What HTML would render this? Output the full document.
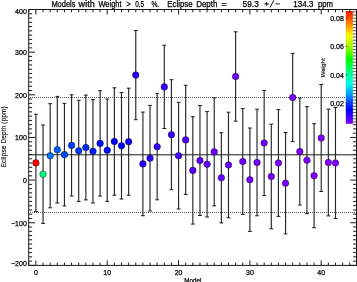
<!DOCTYPE html>
<html><head><meta charset="utf-8"><style>
html,body{margin:0;padding:0;background:#fff;overflow:hidden;width:357px;height:282px}
svg{display:block;will-change:transform}
text{font-family:"Liberation Sans",sans-serif;stroke:#000;stroke-width:0.25px}
</style></head><body><svg width="357" height="282" viewBox="0 0 357 282"><defs><linearGradient id="cb" x1="0" y1="0" x2="0" y2="1"><stop offset="0.000" stop-color="#ff0f00"/><stop offset="0.106" stop-color="#ff7d00"/><stop offset="0.213" stop-color="#fff500"/><stop offset="0.319" stop-color="#96ff00"/><stop offset="0.426" stop-color="#00ff00"/><stop offset="0.532" stop-color="#00ff78"/><stop offset="0.638" stop-color="#00ffe6"/><stop offset="0.745" stop-color="#0096ff"/><stop offset="0.816" stop-color="#003cff"/><stop offset="0.878" stop-color="#0000ff"/><stop offset="0.940" stop-color="#4600ff"/><stop offset="1.000" stop-color="#8200ff"/></linearGradient></defs><line x1="28.7" y1="154.81" x2="356.4" y2="154.81" stroke="#1a1a1a" stroke-width="1"/><line x1="30" y1="97.50" x2="356" y2="97.50" stroke="#555" stroke-width="1" stroke-dasharray="1,1"/><line x1="30" y1="212.50" x2="356" y2="212.50" stroke="#555" stroke-width="1" stroke-dasharray="1,1"/><line x1="35.90" y1="114.20" x2="35.90" y2="211.60" stroke="#262626" stroke-width="1.15"/><line x1="34.00" y1="114.20" x2="37.80" y2="114.20" stroke="#1a1a1a" stroke-width="1"/><line x1="34.00" y1="211.60" x2="37.80" y2="211.60" stroke="#1a1a1a" stroke-width="1"/><line x1="43.03" y1="125.00" x2="43.03" y2="223.40" stroke="#262626" stroke-width="1.15"/><line x1="41.13" y1="125.00" x2="44.93" y2="125.00" stroke="#1a1a1a" stroke-width="1"/><line x1="41.13" y1="223.40" x2="44.93" y2="223.40" stroke="#1a1a1a" stroke-width="1"/><line x1="50.17" y1="103.70" x2="50.17" y2="207.80" stroke="#262626" stroke-width="1.15"/><line x1="48.27" y1="103.70" x2="52.07" y2="103.70" stroke="#1a1a1a" stroke-width="1"/><line x1="48.27" y1="207.80" x2="52.07" y2="207.80" stroke="#1a1a1a" stroke-width="1"/><line x1="57.30" y1="96.40" x2="57.30" y2="203.00" stroke="#262626" stroke-width="1.15"/><line x1="55.40" y1="96.40" x2="59.20" y2="96.40" stroke="#1a1a1a" stroke-width="1"/><line x1="55.40" y1="203.00" x2="59.20" y2="203.00" stroke="#1a1a1a" stroke-width="1"/><line x1="64.43" y1="103.40" x2="64.43" y2="205.90" stroke="#262626" stroke-width="1.15"/><line x1="62.53" y1="103.40" x2="66.33" y2="103.40" stroke="#1a1a1a" stroke-width="1"/><line x1="62.53" y1="205.90" x2="66.33" y2="205.90" stroke="#1a1a1a" stroke-width="1"/><line x1="71.56" y1="94.80" x2="71.56" y2="196.00" stroke="#262626" stroke-width="1.15"/><line x1="69.66" y1="94.80" x2="73.47" y2="94.80" stroke="#1a1a1a" stroke-width="1"/><line x1="69.66" y1="196.00" x2="73.47" y2="196.00" stroke="#1a1a1a" stroke-width="1"/><line x1="78.70" y1="100.20" x2="78.70" y2="201.40" stroke="#262626" stroke-width="1.15"/><line x1="76.80" y1="100.20" x2="80.60" y2="100.20" stroke="#1a1a1a" stroke-width="1"/><line x1="76.80" y1="201.40" x2="80.60" y2="201.40" stroke="#1a1a1a" stroke-width="1"/><line x1="85.83" y1="95.10" x2="85.83" y2="199.90" stroke="#262626" stroke-width="1.15"/><line x1="83.93" y1="95.10" x2="87.73" y2="95.10" stroke="#1a1a1a" stroke-width="1"/><line x1="83.93" y1="199.90" x2="87.73" y2="199.90" stroke="#1a1a1a" stroke-width="1"/><line x1="92.96" y1="99.60" x2="92.96" y2="203.00" stroke="#262626" stroke-width="1.15"/><line x1="91.06" y1="99.60" x2="94.86" y2="99.60" stroke="#1a1a1a" stroke-width="1"/><line x1="91.06" y1="203.00" x2="94.86" y2="203.00" stroke="#1a1a1a" stroke-width="1"/><line x1="100.10" y1="90.70" x2="100.10" y2="196.10" stroke="#262626" stroke-width="1.15"/><line x1="98.20" y1="90.70" x2="102.00" y2="90.70" stroke="#1a1a1a" stroke-width="1"/><line x1="98.20" y1="196.10" x2="102.00" y2="196.10" stroke="#1a1a1a" stroke-width="1"/><line x1="107.23" y1="99.00" x2="107.23" y2="201.40" stroke="#262626" stroke-width="1.15"/><line x1="105.33" y1="99.00" x2="109.13" y2="99.00" stroke="#1a1a1a" stroke-width="1"/><line x1="105.33" y1="201.40" x2="109.13" y2="201.40" stroke="#1a1a1a" stroke-width="1"/><line x1="114.36" y1="87.80" x2="114.36" y2="195.20" stroke="#262626" stroke-width="1.15"/><line x1="112.46" y1="87.80" x2="116.26" y2="87.80" stroke="#1a1a1a" stroke-width="1"/><line x1="112.46" y1="195.20" x2="116.26" y2="195.20" stroke="#1a1a1a" stroke-width="1"/><line x1="121.50" y1="92.60" x2="121.50" y2="199.00" stroke="#262626" stroke-width="1.15"/><line x1="119.60" y1="92.60" x2="123.40" y2="92.60" stroke="#1a1a1a" stroke-width="1"/><line x1="119.60" y1="199.00" x2="123.40" y2="199.00" stroke="#1a1a1a" stroke-width="1"/><line x1="128.63" y1="88.20" x2="128.63" y2="195.20" stroke="#262626" stroke-width="1.15"/><line x1="126.73" y1="88.20" x2="130.53" y2="88.20" stroke="#1a1a1a" stroke-width="1"/><line x1="126.73" y1="195.20" x2="130.53" y2="195.20" stroke="#1a1a1a" stroke-width="1"/><line x1="135.76" y1="30.50" x2="135.76" y2="119.70" stroke="#262626" stroke-width="1.15"/><line x1="133.86" y1="30.50" x2="137.66" y2="30.50" stroke="#1a1a1a" stroke-width="1"/><line x1="133.86" y1="119.70" x2="137.66" y2="119.70" stroke="#1a1a1a" stroke-width="1"/><line x1="142.90" y1="112.10" x2="142.90" y2="215.70" stroke="#262626" stroke-width="1.15"/><line x1="141.00" y1="112.10" x2="144.80" y2="112.10" stroke="#1a1a1a" stroke-width="1"/><line x1="141.00" y1="215.70" x2="144.80" y2="215.70" stroke="#1a1a1a" stroke-width="1"/><line x1="150.03" y1="105.40" x2="150.03" y2="211.00" stroke="#262626" stroke-width="1.15"/><line x1="148.13" y1="105.40" x2="151.93" y2="105.40" stroke="#1a1a1a" stroke-width="1"/><line x1="148.13" y1="211.00" x2="151.93" y2="211.00" stroke="#1a1a1a" stroke-width="1"/><line x1="157.16" y1="93.60" x2="157.16" y2="199.80" stroke="#262626" stroke-width="1.15"/><line x1="155.26" y1="93.60" x2="159.06" y2="93.60" stroke="#1a1a1a" stroke-width="1"/><line x1="155.26" y1="199.80" x2="159.06" y2="199.80" stroke="#1a1a1a" stroke-width="1"/><line x1="164.29" y1="45.30" x2="164.29" y2="128.50" stroke="#262626" stroke-width="1.15"/><line x1="162.39" y1="45.30" x2="166.19" y2="45.30" stroke="#1a1a1a" stroke-width="1"/><line x1="162.39" y1="128.50" x2="166.19" y2="128.50" stroke="#1a1a1a" stroke-width="1"/><line x1="171.43" y1="79.70" x2="171.43" y2="189.70" stroke="#262626" stroke-width="1.15"/><line x1="169.53" y1="79.70" x2="173.33" y2="79.70" stroke="#1a1a1a" stroke-width="1"/><line x1="169.53" y1="189.70" x2="173.33" y2="189.70" stroke="#1a1a1a" stroke-width="1"/><line x1="178.56" y1="102.40" x2="178.56" y2="209.00" stroke="#262626" stroke-width="1.15"/><line x1="176.66" y1="102.40" x2="180.46" y2="102.40" stroke="#1a1a1a" stroke-width="1"/><line x1="176.66" y1="209.00" x2="180.46" y2="209.00" stroke="#1a1a1a" stroke-width="1"/><line x1="185.69" y1="85.30" x2="185.69" y2="194.50" stroke="#262626" stroke-width="1.15"/><line x1="183.79" y1="85.30" x2="187.59" y2="85.30" stroke="#1a1a1a" stroke-width="1"/><line x1="183.79" y1="194.50" x2="187.59" y2="194.50" stroke="#1a1a1a" stroke-width="1"/><line x1="192.83" y1="116.70" x2="192.83" y2="224.10" stroke="#262626" stroke-width="1.15"/><line x1="190.93" y1="116.70" x2="194.73" y2="116.70" stroke="#1a1a1a" stroke-width="1"/><line x1="190.93" y1="224.10" x2="194.73" y2="224.10" stroke="#1a1a1a" stroke-width="1"/><line x1="199.96" y1="105.50" x2="199.96" y2="215.50" stroke="#262626" stroke-width="1.15"/><line x1="198.06" y1="105.50" x2="201.86" y2="105.50" stroke="#1a1a1a" stroke-width="1"/><line x1="198.06" y1="215.50" x2="201.86" y2="215.50" stroke="#1a1a1a" stroke-width="1"/><line x1="207.09" y1="111.60" x2="207.09" y2="217.00" stroke="#262626" stroke-width="1.15"/><line x1="205.19" y1="111.60" x2="208.99" y2="111.60" stroke="#1a1a1a" stroke-width="1"/><line x1="205.19" y1="217.00" x2="208.99" y2="217.00" stroke="#1a1a1a" stroke-width="1"/><line x1="214.22" y1="97.90" x2="214.22" y2="205.90" stroke="#262626" stroke-width="1.15"/><line x1="212.32" y1="97.90" x2="216.12" y2="97.90" stroke="#1a1a1a" stroke-width="1"/><line x1="212.32" y1="205.90" x2="216.12" y2="205.90" stroke="#1a1a1a" stroke-width="1"/><line x1="221.36" y1="132.70" x2="221.36" y2="222.90" stroke="#262626" stroke-width="1.15"/><line x1="219.46" y1="132.70" x2="223.26" y2="132.70" stroke="#1a1a1a" stroke-width="1"/><line x1="219.46" y1="222.90" x2="223.26" y2="222.90" stroke="#1a1a1a" stroke-width="1"/><line x1="228.49" y1="112.20" x2="228.49" y2="217.80" stroke="#262626" stroke-width="1.15"/><line x1="226.59" y1="112.20" x2="230.39" y2="112.20" stroke="#1a1a1a" stroke-width="1"/><line x1="226.59" y1="217.80" x2="230.39" y2="217.80" stroke="#1a1a1a" stroke-width="1"/><line x1="235.62" y1="31.80" x2="235.62" y2="121.20" stroke="#262626" stroke-width="1.15"/><line x1="233.72" y1="31.80" x2="237.52" y2="31.80" stroke="#1a1a1a" stroke-width="1"/><line x1="233.72" y1="121.20" x2="237.52" y2="121.20" stroke="#1a1a1a" stroke-width="1"/><line x1="242.76" y1="108.60" x2="242.76" y2="214.40" stroke="#262626" stroke-width="1.15"/><line x1="240.86" y1="108.60" x2="244.66" y2="108.60" stroke="#1a1a1a" stroke-width="1"/><line x1="240.86" y1="214.40" x2="244.66" y2="214.40" stroke="#1a1a1a" stroke-width="1"/><line x1="249.89" y1="128.00" x2="249.89" y2="231.40" stroke="#262626" stroke-width="1.15"/><line x1="247.99" y1="128.00" x2="251.79" y2="128.00" stroke="#1a1a1a" stroke-width="1"/><line x1="247.99" y1="231.40" x2="251.79" y2="231.40" stroke="#1a1a1a" stroke-width="1"/><line x1="257.02" y1="109.20" x2="257.02" y2="215.80" stroke="#262626" stroke-width="1.15"/><line x1="255.12" y1="109.20" x2="258.92" y2="109.20" stroke="#1a1a1a" stroke-width="1"/><line x1="255.12" y1="215.80" x2="258.92" y2="215.80" stroke="#1a1a1a" stroke-width="1"/><line x1="264.16" y1="90.40" x2="264.16" y2="195.60" stroke="#262626" stroke-width="1.15"/><line x1="262.26" y1="90.40" x2="266.06" y2="90.40" stroke="#1a1a1a" stroke-width="1"/><line x1="262.26" y1="195.60" x2="266.06" y2="195.60" stroke="#1a1a1a" stroke-width="1"/><line x1="271.29" y1="124.20" x2="271.29" y2="228.80" stroke="#262626" stroke-width="1.15"/><line x1="269.39" y1="124.20" x2="273.19" y2="124.20" stroke="#1a1a1a" stroke-width="1"/><line x1="269.39" y1="228.80" x2="273.19" y2="228.80" stroke="#1a1a1a" stroke-width="1"/><line x1="278.42" y1="109.60" x2="278.42" y2="216.40" stroke="#262626" stroke-width="1.15"/><line x1="276.52" y1="109.60" x2="280.32" y2="109.60" stroke="#1a1a1a" stroke-width="1"/><line x1="276.52" y1="216.40" x2="280.32" y2="216.40" stroke="#1a1a1a" stroke-width="1"/><line x1="285.56" y1="132.50" x2="285.56" y2="233.90" stroke="#262626" stroke-width="1.15"/><line x1="283.66" y1="132.50" x2="287.45" y2="132.50" stroke="#1a1a1a" stroke-width="1"/><line x1="283.66" y1="233.90" x2="287.45" y2="233.90" stroke="#1a1a1a" stroke-width="1"/><line x1="292.69" y1="53.40" x2="292.69" y2="141.60" stroke="#262626" stroke-width="1.15"/><line x1="290.79" y1="53.40" x2="294.59" y2="53.40" stroke="#1a1a1a" stroke-width="1"/><line x1="290.79" y1="141.60" x2="294.59" y2="141.60" stroke="#1a1a1a" stroke-width="1"/><line x1="299.82" y1="98.00" x2="299.82" y2="205.00" stroke="#262626" stroke-width="1.15"/><line x1="297.92" y1="98.00" x2="301.72" y2="98.00" stroke="#1a1a1a" stroke-width="1"/><line x1="297.92" y1="205.00" x2="301.72" y2="205.00" stroke="#1a1a1a" stroke-width="1"/><line x1="306.95" y1="106.70" x2="306.95" y2="213.70" stroke="#262626" stroke-width="1.15"/><line x1="305.05" y1="106.70" x2="308.85" y2="106.70" stroke="#1a1a1a" stroke-width="1"/><line x1="305.05" y1="213.70" x2="308.85" y2="213.70" stroke="#1a1a1a" stroke-width="1"/><line x1="314.09" y1="123.70" x2="314.09" y2="227.70" stroke="#262626" stroke-width="1.15"/><line x1="312.19" y1="123.70" x2="315.99" y2="123.70" stroke="#1a1a1a" stroke-width="1"/><line x1="312.19" y1="227.70" x2="315.99" y2="227.70" stroke="#1a1a1a" stroke-width="1"/><line x1="321.22" y1="84.50" x2="321.22" y2="191.50" stroke="#262626" stroke-width="1.15"/><line x1="319.32" y1="84.50" x2="323.12" y2="84.50" stroke="#1a1a1a" stroke-width="1"/><line x1="319.32" y1="191.50" x2="323.12" y2="191.50" stroke="#1a1a1a" stroke-width="1"/><line x1="328.35" y1="109.10" x2="328.35" y2="215.90" stroke="#262626" stroke-width="1.15"/><line x1="326.45" y1="109.10" x2="330.25" y2="109.10" stroke="#1a1a1a" stroke-width="1"/><line x1="326.45" y1="215.90" x2="330.25" y2="215.90" stroke="#1a1a1a" stroke-width="1"/><line x1="335.49" y1="107.50" x2="335.49" y2="218.50" stroke="#262626" stroke-width="1.15"/><line x1="333.59" y1="107.50" x2="337.39" y2="107.50" stroke="#1a1a1a" stroke-width="1"/><line x1="333.59" y1="218.50" x2="337.39" y2="218.50" stroke="#1a1a1a" stroke-width="1"/><circle cx="35.90" cy="162.90" r="3.3" fill="#ff0000" stroke="#000" stroke-opacity="0.6" stroke-width="0.7"/><circle cx="43.03" cy="174.20" r="3.3" fill="#00ff78" stroke="#000" stroke-opacity="0.6" stroke-width="0.7"/><circle cx="50.17" cy="155.75" r="3.3" fill="#0073ff" stroke="#000" stroke-opacity="0.6" stroke-width="0.7"/><circle cx="57.30" cy="149.70" r="3.3" fill="#005aff" stroke="#000" stroke-opacity="0.6" stroke-width="0.7"/><circle cx="64.43" cy="154.65" r="3.3" fill="#004bff" stroke="#000" stroke-opacity="0.6" stroke-width="0.7"/><circle cx="71.56" cy="145.40" r="3.3" fill="#0042ff" stroke="#000" stroke-opacity="0.6" stroke-width="0.7"/><circle cx="78.70" cy="150.80" r="3.3" fill="#0037ff" stroke="#000" stroke-opacity="0.6" stroke-width="0.7"/><circle cx="85.83" cy="147.50" r="3.3" fill="#002aff" stroke="#000" stroke-opacity="0.6" stroke-width="0.7"/><circle cx="92.96" cy="151.30" r="3.3" fill="#001eff" stroke="#000" stroke-opacity="0.6" stroke-width="0.7"/><circle cx="100.10" cy="143.40" r="3.3" fill="#000cff" stroke="#000" stroke-opacity="0.6" stroke-width="0.7"/><circle cx="107.23" cy="150.20" r="3.3" fill="#0006ff" stroke="#000" stroke-opacity="0.6" stroke-width="0.7"/><circle cx="114.36" cy="141.50" r="3.3" fill="#0000ff" stroke="#000" stroke-opacity="0.6" stroke-width="0.7"/><circle cx="121.50" cy="145.80" r="3.3" fill="#0000ff" stroke="#000" stroke-opacity="0.6" stroke-width="0.7"/><circle cx="128.63" cy="141.70" r="3.3" fill="#0a00ff" stroke="#000" stroke-opacity="0.6" stroke-width="0.7"/><circle cx="135.76" cy="75.10" r="3.3" fill="#2800ff" stroke="#000" stroke-opacity="0.6" stroke-width="0.7"/><circle cx="142.90" cy="163.90" r="3.3" fill="#2800ff" stroke="#000" stroke-opacity="0.6" stroke-width="0.7"/><circle cx="150.03" cy="158.20" r="3.3" fill="#3000ff" stroke="#000" stroke-opacity="0.6" stroke-width="0.7"/><circle cx="157.16" cy="146.70" r="3.3" fill="#3700ff" stroke="#000" stroke-opacity="0.6" stroke-width="0.7"/><circle cx="164.29" cy="86.90" r="3.3" fill="#3700ff" stroke="#000" stroke-opacity="0.6" stroke-width="0.7"/><circle cx="171.43" cy="134.70" r="3.3" fill="#3c00ff" stroke="#000" stroke-opacity="0.6" stroke-width="0.7"/><circle cx="178.56" cy="155.70" r="3.3" fill="#4600ff" stroke="#000" stroke-opacity="0.6" stroke-width="0.7"/><circle cx="185.69" cy="139.90" r="3.3" fill="#5000ff" stroke="#000" stroke-opacity="0.6" stroke-width="0.7"/><circle cx="192.83" cy="170.40" r="3.3" fill="#5800ff" stroke="#000" stroke-opacity="0.6" stroke-width="0.7"/><circle cx="199.96" cy="160.50" r="3.3" fill="#5f00ff" stroke="#000" stroke-opacity="0.6" stroke-width="0.7"/><circle cx="207.09" cy="164.30" r="3.3" fill="#6400ff" stroke="#000" stroke-opacity="0.6" stroke-width="0.7"/><circle cx="214.22" cy="151.90" r="3.3" fill="#6900ff" stroke="#000" stroke-opacity="0.6" stroke-width="0.7"/><circle cx="221.36" cy="177.80" r="3.3" fill="#6b00ff" stroke="#000" stroke-opacity="0.6" stroke-width="0.7"/><circle cx="228.49" cy="165.00" r="3.3" fill="#6d00ff" stroke="#000" stroke-opacity="0.6" stroke-width="0.7"/><circle cx="235.62" cy="76.50" r="3.3" fill="#6e00ff" stroke="#000" stroke-opacity="0.6" stroke-width="0.7"/><circle cx="242.76" cy="161.50" r="3.3" fill="#7100ff" stroke="#000" stroke-opacity="0.6" stroke-width="0.7"/><circle cx="249.89" cy="179.70" r="3.3" fill="#7300ff" stroke="#000" stroke-opacity="0.6" stroke-width="0.7"/><circle cx="257.02" cy="162.50" r="3.3" fill="#7600ff" stroke="#000" stroke-opacity="0.6" stroke-width="0.7"/><circle cx="264.16" cy="143.00" r="3.3" fill="#7800ff" stroke="#000" stroke-opacity="0.6" stroke-width="0.7"/><circle cx="271.29" cy="176.50" r="3.3" fill="#7900ff" stroke="#000" stroke-opacity="0.6" stroke-width="0.7"/><circle cx="278.42" cy="163.00" r="3.3" fill="#7b00ff" stroke="#000" stroke-opacity="0.6" stroke-width="0.7"/><circle cx="285.56" cy="183.20" r="3.3" fill="#7c00ff" stroke="#000" stroke-opacity="0.6" stroke-width="0.7"/><circle cx="292.69" cy="97.50" r="3.3" fill="#7d00ff" stroke="#000" stroke-opacity="0.6" stroke-width="0.7"/><circle cx="299.82" cy="151.50" r="3.3" fill="#7e00ff" stroke="#000" stroke-opacity="0.6" stroke-width="0.7"/><circle cx="306.95" cy="160.20" r="3.3" fill="#7f00ff" stroke="#000" stroke-opacity="0.6" stroke-width="0.7"/><circle cx="314.09" cy="175.70" r="3.3" fill="#8000ff" stroke="#000" stroke-opacity="0.6" stroke-width="0.7"/><circle cx="321.22" cy="138.00" r="3.3" fill="#8000ff" stroke="#000" stroke-opacity="0.6" stroke-width="0.7"/><circle cx="328.35" cy="162.50" r="3.3" fill="#8100ff" stroke="#000" stroke-opacity="0.6" stroke-width="0.7"/><circle cx="335.49" cy="163.00" r="3.3" fill="#8200ff" stroke="#000" stroke-opacity="0.6" stroke-width="0.7"/><line x1="353" y1="11.91" x2="356.5" y2="11.91" stroke="#555" stroke-width="1"/><line x1="353" y1="15.05" x2="356.5" y2="15.05" stroke="#555" stroke-width="1"/><line x1="353" y1="18.20" x2="356.5" y2="18.20" stroke="#555" stroke-width="1"/><line x1="353" y1="21.34" x2="356.5" y2="21.34" stroke="#555" stroke-width="1"/><line x1="353" y1="24.49" x2="356.5" y2="24.49" stroke="#555" stroke-width="1"/><line x1="353" y1="27.63" x2="356.5" y2="27.63" stroke="#555" stroke-width="1"/><line x1="353" y1="30.78" x2="356.5" y2="30.78" stroke="#555" stroke-width="1"/><line x1="353" y1="33.92" x2="356.5" y2="33.92" stroke="#555" stroke-width="1"/><line x1="353" y1="37.07" x2="356.5" y2="37.07" stroke="#555" stroke-width="1"/><line x1="353" y1="40.22" x2="356.5" y2="40.22" stroke="#555" stroke-width="1"/><line x1="353" y1="43.36" x2="356.5" y2="43.36" stroke="#555" stroke-width="1"/><line x1="353" y1="46.50" x2="356.5" y2="46.50" stroke="#555" stroke-width="1"/><line x1="353" y1="49.65" x2="356.5" y2="49.65" stroke="#555" stroke-width="1"/><line x1="353" y1="52.80" x2="356.5" y2="52.80" stroke="#555" stroke-width="1"/><line x1="353" y1="55.94" x2="356.5" y2="55.94" stroke="#555" stroke-width="1"/><line x1="353" y1="59.08" x2="356.5" y2="59.08" stroke="#555" stroke-width="1"/><line x1="353" y1="62.23" x2="356.5" y2="62.23" stroke="#555" stroke-width="1"/><line x1="353" y1="65.38" x2="356.5" y2="65.38" stroke="#555" stroke-width="1"/><line x1="353" y1="68.52" x2="356.5" y2="68.52" stroke="#555" stroke-width="1"/><line x1="353" y1="71.67" x2="356.5" y2="71.67" stroke="#555" stroke-width="1"/><line x1="353" y1="74.81" x2="356.5" y2="74.81" stroke="#555" stroke-width="1"/><line x1="353" y1="77.95" x2="356.5" y2="77.95" stroke="#555" stroke-width="1"/><line x1="353" y1="81.10" x2="356.5" y2="81.10" stroke="#555" stroke-width="1"/><line x1="353" y1="84.25" x2="356.5" y2="84.25" stroke="#555" stroke-width="1"/><line x1="353" y1="87.39" x2="356.5" y2="87.39" stroke="#555" stroke-width="1"/><line x1="353" y1="90.53" x2="356.5" y2="90.53" stroke="#555" stroke-width="1"/><line x1="353" y1="93.68" x2="356.5" y2="93.68" stroke="#555" stroke-width="1"/><line x1="353" y1="96.83" x2="356.5" y2="96.83" stroke="#555" stroke-width="1"/><line x1="353" y1="99.97" x2="356.5" y2="99.97" stroke="#555" stroke-width="1"/><line x1="353" y1="103.12" x2="356.5" y2="103.12" stroke="#555" stroke-width="1"/><line x1="353" y1="106.26" x2="356.5" y2="106.26" stroke="#555" stroke-width="1"/><line x1="353" y1="109.41" x2="356.5" y2="109.41" stroke="#555" stroke-width="1"/><line x1="353" y1="112.55" x2="356.5" y2="112.55" stroke="#555" stroke-width="1"/><line x1="353" y1="115.70" x2="356.5" y2="115.70" stroke="#555" stroke-width="1"/><line x1="353" y1="118.84" x2="356.5" y2="118.84" stroke="#555" stroke-width="1"/><line x1="353" y1="121.98" x2="356.5" y2="121.98" stroke="#555" stroke-width="1"/><rect x="345.8" y="11" width="7.1" height="112.8" fill="url(#cb)"/><line x1="345.8" y1="18.20" x2="347.4" y2="18.20" stroke="#333" stroke-width="1"/><line x1="345.8" y1="46.40" x2="347.4" y2="46.40" stroke="#333" stroke-width="1"/><line x1="345.8" y1="74.70" x2="347.4" y2="74.70" stroke="#333" stroke-width="1"/><line x1="345.8" y1="103.00" x2="347.4" y2="103.00" stroke="#333" stroke-width="1"/><rect x="28.7" y="9.5" width="327.8" height="255.9" fill="none" stroke="#1a1a1a" stroke-width="1"/><line x1="28.7" y1="265.40" x2="35.00" y2="265.40" stroke="#1a1a1a" stroke-width="1"/><line x1="356.5" y1="265.40" x2="350.20" y2="265.40" stroke="#1a1a1a" stroke-width="1"/><line x1="28.7" y1="261.13" x2="32.10" y2="261.13" stroke="#1a1a1a" stroke-width="1"/><line x1="356.5" y1="261.13" x2="353.10" y2="261.13" stroke="#1a1a1a" stroke-width="1"/><line x1="28.7" y1="256.87" x2="32.10" y2="256.87" stroke="#1a1a1a" stroke-width="1"/><line x1="356.5" y1="256.87" x2="353.10" y2="256.87" stroke="#1a1a1a" stroke-width="1"/><line x1="28.7" y1="252.60" x2="32.10" y2="252.60" stroke="#1a1a1a" stroke-width="1"/><line x1="356.5" y1="252.60" x2="353.10" y2="252.60" stroke="#1a1a1a" stroke-width="1"/><line x1="28.7" y1="248.34" x2="32.10" y2="248.34" stroke="#1a1a1a" stroke-width="1"/><line x1="356.5" y1="248.34" x2="353.10" y2="248.34" stroke="#1a1a1a" stroke-width="1"/><line x1="28.7" y1="244.07" x2="32.10" y2="244.07" stroke="#1a1a1a" stroke-width="1"/><line x1="356.5" y1="244.07" x2="353.10" y2="244.07" stroke="#1a1a1a" stroke-width="1"/><line x1="28.7" y1="239.81" x2="32.10" y2="239.81" stroke="#1a1a1a" stroke-width="1"/><line x1="356.5" y1="239.81" x2="353.10" y2="239.81" stroke="#1a1a1a" stroke-width="1"/><line x1="28.7" y1="235.54" x2="32.10" y2="235.54" stroke="#1a1a1a" stroke-width="1"/><line x1="356.5" y1="235.54" x2="353.10" y2="235.54" stroke="#1a1a1a" stroke-width="1"/><line x1="28.7" y1="231.28" x2="32.10" y2="231.28" stroke="#1a1a1a" stroke-width="1"/><line x1="356.5" y1="231.28" x2="353.10" y2="231.28" stroke="#1a1a1a" stroke-width="1"/><line x1="28.7" y1="227.01" x2="32.10" y2="227.01" stroke="#1a1a1a" stroke-width="1"/><line x1="356.5" y1="227.01" x2="353.10" y2="227.01" stroke="#1a1a1a" stroke-width="1"/><line x1="28.7" y1="222.75" x2="35.00" y2="222.75" stroke="#1a1a1a" stroke-width="1"/><line x1="356.5" y1="222.75" x2="350.20" y2="222.75" stroke="#1a1a1a" stroke-width="1"/><line x1="28.7" y1="218.48" x2="32.10" y2="218.48" stroke="#1a1a1a" stroke-width="1"/><line x1="356.5" y1="218.48" x2="353.10" y2="218.48" stroke="#1a1a1a" stroke-width="1"/><line x1="28.7" y1="214.22" x2="32.10" y2="214.22" stroke="#1a1a1a" stroke-width="1"/><line x1="356.5" y1="214.22" x2="353.10" y2="214.22" stroke="#1a1a1a" stroke-width="1"/><line x1="28.7" y1="209.95" x2="32.10" y2="209.95" stroke="#1a1a1a" stroke-width="1"/><line x1="356.5" y1="209.95" x2="353.10" y2="209.95" stroke="#1a1a1a" stroke-width="1"/><line x1="28.7" y1="205.69" x2="32.10" y2="205.69" stroke="#1a1a1a" stroke-width="1"/><line x1="356.5" y1="205.69" x2="353.10" y2="205.69" stroke="#1a1a1a" stroke-width="1"/><line x1="28.7" y1="201.42" x2="32.10" y2="201.42" stroke="#1a1a1a" stroke-width="1"/><line x1="356.5" y1="201.42" x2="353.10" y2="201.42" stroke="#1a1a1a" stroke-width="1"/><line x1="28.7" y1="197.16" x2="32.10" y2="197.16" stroke="#1a1a1a" stroke-width="1"/><line x1="356.5" y1="197.16" x2="353.10" y2="197.16" stroke="#1a1a1a" stroke-width="1"/><line x1="28.7" y1="192.89" x2="32.10" y2="192.89" stroke="#1a1a1a" stroke-width="1"/><line x1="356.5" y1="192.89" x2="353.10" y2="192.89" stroke="#1a1a1a" stroke-width="1"/><line x1="28.7" y1="188.63" x2="32.10" y2="188.63" stroke="#1a1a1a" stroke-width="1"/><line x1="356.5" y1="188.63" x2="353.10" y2="188.63" stroke="#1a1a1a" stroke-width="1"/><line x1="28.7" y1="184.37" x2="32.10" y2="184.37" stroke="#1a1a1a" stroke-width="1"/><line x1="356.5" y1="184.37" x2="353.10" y2="184.37" stroke="#1a1a1a" stroke-width="1"/><line x1="28.7" y1="180.10" x2="35.00" y2="180.10" stroke="#1a1a1a" stroke-width="1"/><line x1="356.5" y1="180.10" x2="350.20" y2="180.10" stroke="#1a1a1a" stroke-width="1"/><line x1="28.7" y1="175.84" x2="32.10" y2="175.84" stroke="#1a1a1a" stroke-width="1"/><line x1="356.5" y1="175.84" x2="353.10" y2="175.84" stroke="#1a1a1a" stroke-width="1"/><line x1="28.7" y1="171.57" x2="32.10" y2="171.57" stroke="#1a1a1a" stroke-width="1"/><line x1="356.5" y1="171.57" x2="353.10" y2="171.57" stroke="#1a1a1a" stroke-width="1"/><line x1="28.7" y1="167.31" x2="32.10" y2="167.31" stroke="#1a1a1a" stroke-width="1"/><line x1="356.5" y1="167.31" x2="353.10" y2="167.31" stroke="#1a1a1a" stroke-width="1"/><line x1="28.7" y1="163.04" x2="32.10" y2="163.04" stroke="#1a1a1a" stroke-width="1"/><line x1="356.5" y1="163.04" x2="353.10" y2="163.04" stroke="#1a1a1a" stroke-width="1"/><line x1="28.7" y1="158.78" x2="32.10" y2="158.78" stroke="#1a1a1a" stroke-width="1"/><line x1="356.5" y1="158.78" x2="353.10" y2="158.78" stroke="#1a1a1a" stroke-width="1"/><line x1="28.7" y1="154.51" x2="32.10" y2="154.51" stroke="#1a1a1a" stroke-width="1"/><line x1="356.5" y1="154.51" x2="353.10" y2="154.51" stroke="#1a1a1a" stroke-width="1"/><line x1="28.7" y1="150.25" x2="32.10" y2="150.25" stroke="#1a1a1a" stroke-width="1"/><line x1="356.5" y1="150.25" x2="353.10" y2="150.25" stroke="#1a1a1a" stroke-width="1"/><line x1="28.7" y1="145.98" x2="32.10" y2="145.98" stroke="#1a1a1a" stroke-width="1"/><line x1="356.5" y1="145.98" x2="353.10" y2="145.98" stroke="#1a1a1a" stroke-width="1"/><line x1="28.7" y1="141.72" x2="32.10" y2="141.72" stroke="#1a1a1a" stroke-width="1"/><line x1="356.5" y1="141.72" x2="353.10" y2="141.72" stroke="#1a1a1a" stroke-width="1"/><line x1="28.7" y1="137.45" x2="35.00" y2="137.45" stroke="#1a1a1a" stroke-width="1"/><line x1="356.5" y1="137.45" x2="350.20" y2="137.45" stroke="#1a1a1a" stroke-width="1"/><line x1="28.7" y1="133.19" x2="32.10" y2="133.19" stroke="#1a1a1a" stroke-width="1"/><line x1="356.5" y1="133.19" x2="353.10" y2="133.19" stroke="#1a1a1a" stroke-width="1"/><line x1="28.7" y1="128.92" x2="32.10" y2="128.92" stroke="#1a1a1a" stroke-width="1"/><line x1="356.5" y1="128.92" x2="353.10" y2="128.92" stroke="#1a1a1a" stroke-width="1"/><line x1="28.7" y1="124.66" x2="32.10" y2="124.66" stroke="#1a1a1a" stroke-width="1"/><line x1="356.5" y1="124.66" x2="353.10" y2="124.66" stroke="#1a1a1a" stroke-width="1"/><line x1="28.7" y1="120.39" x2="32.10" y2="120.39" stroke="#1a1a1a" stroke-width="1"/><line x1="28.7" y1="116.12" x2="32.10" y2="116.12" stroke="#1a1a1a" stroke-width="1"/><line x1="28.7" y1="111.86" x2="32.10" y2="111.86" stroke="#1a1a1a" stroke-width="1"/><line x1="28.7" y1="107.59" x2="32.10" y2="107.59" stroke="#1a1a1a" stroke-width="1"/><line x1="28.7" y1="103.33" x2="32.10" y2="103.33" stroke="#1a1a1a" stroke-width="1"/><line x1="28.7" y1="99.06" x2="32.10" y2="99.06" stroke="#1a1a1a" stroke-width="1"/><line x1="28.7" y1="94.80" x2="35.00" y2="94.80" stroke="#1a1a1a" stroke-width="1"/><line x1="28.7" y1="90.53" x2="32.10" y2="90.53" stroke="#1a1a1a" stroke-width="1"/><line x1="28.7" y1="86.27" x2="32.10" y2="86.27" stroke="#1a1a1a" stroke-width="1"/><line x1="28.7" y1="82.00" x2="32.10" y2="82.00" stroke="#1a1a1a" stroke-width="1"/><line x1="28.7" y1="77.74" x2="32.10" y2="77.74" stroke="#1a1a1a" stroke-width="1"/><line x1="28.7" y1="73.47" x2="32.10" y2="73.47" stroke="#1a1a1a" stroke-width="1"/><line x1="28.7" y1="69.21" x2="32.10" y2="69.21" stroke="#1a1a1a" stroke-width="1"/><line x1="28.7" y1="64.94" x2="32.10" y2="64.94" stroke="#1a1a1a" stroke-width="1"/><line x1="28.7" y1="60.68" x2="32.10" y2="60.68" stroke="#1a1a1a" stroke-width="1"/><line x1="28.7" y1="56.41" x2="32.10" y2="56.41" stroke="#1a1a1a" stroke-width="1"/><line x1="28.7" y1="52.15" x2="35.00" y2="52.15" stroke="#1a1a1a" stroke-width="1"/><line x1="28.7" y1="47.88" x2="32.10" y2="47.88" stroke="#1a1a1a" stroke-width="1"/><line x1="28.7" y1="43.62" x2="32.10" y2="43.62" stroke="#1a1a1a" stroke-width="1"/><line x1="28.7" y1="39.36" x2="32.10" y2="39.36" stroke="#1a1a1a" stroke-width="1"/><line x1="28.7" y1="35.09" x2="32.10" y2="35.09" stroke="#1a1a1a" stroke-width="1"/><line x1="28.7" y1="30.82" x2="32.10" y2="30.82" stroke="#1a1a1a" stroke-width="1"/><line x1="28.7" y1="26.56" x2="32.10" y2="26.56" stroke="#1a1a1a" stroke-width="1"/><line x1="28.7" y1="22.30" x2="32.10" y2="22.30" stroke="#1a1a1a" stroke-width="1"/><line x1="28.7" y1="18.03" x2="32.10" y2="18.03" stroke="#1a1a1a" stroke-width="1"/><line x1="28.7" y1="13.77" x2="32.10" y2="13.77" stroke="#1a1a1a" stroke-width="1"/><line x1="28.7" y1="9.50" x2="35.00" y2="9.50" stroke="#1a1a1a" stroke-width="1"/><line x1="356.5" y1="9.50" x2="350.20" y2="9.50" stroke="#1a1a1a" stroke-width="1"/><line x1="28.77" y1="9.5" x2="28.77" y2="12.30" stroke="#1a1a1a" stroke-width="1"/><line x1="28.77" y1="265.4" x2="28.77" y2="262.60" stroke="#1a1a1a" stroke-width="1"/><line x1="35.90" y1="9.5" x2="35.90" y2="14.50" stroke="#1a1a1a" stroke-width="1"/><line x1="35.90" y1="265.4" x2="35.90" y2="260.40" stroke="#1a1a1a" stroke-width="1"/><line x1="43.03" y1="9.5" x2="43.03" y2="12.30" stroke="#1a1a1a" stroke-width="1"/><line x1="43.03" y1="265.4" x2="43.03" y2="262.60" stroke="#1a1a1a" stroke-width="1"/><line x1="50.17" y1="9.5" x2="50.17" y2="12.30" stroke="#1a1a1a" stroke-width="1"/><line x1="50.17" y1="265.4" x2="50.17" y2="262.60" stroke="#1a1a1a" stroke-width="1"/><line x1="57.30" y1="9.5" x2="57.30" y2="12.30" stroke="#1a1a1a" stroke-width="1"/><line x1="57.30" y1="265.4" x2="57.30" y2="262.60" stroke="#1a1a1a" stroke-width="1"/><line x1="64.43" y1="9.5" x2="64.43" y2="12.30" stroke="#1a1a1a" stroke-width="1"/><line x1="64.43" y1="265.4" x2="64.43" y2="262.60" stroke="#1a1a1a" stroke-width="1"/><line x1="71.56" y1="9.5" x2="71.56" y2="12.30" stroke="#1a1a1a" stroke-width="1"/><line x1="71.56" y1="265.4" x2="71.56" y2="262.60" stroke="#1a1a1a" stroke-width="1"/><line x1="78.70" y1="9.5" x2="78.70" y2="12.30" stroke="#1a1a1a" stroke-width="1"/><line x1="78.70" y1="265.4" x2="78.70" y2="262.60" stroke="#1a1a1a" stroke-width="1"/><line x1="85.83" y1="9.5" x2="85.83" y2="12.30" stroke="#1a1a1a" stroke-width="1"/><line x1="85.83" y1="265.4" x2="85.83" y2="262.60" stroke="#1a1a1a" stroke-width="1"/><line x1="92.96" y1="9.5" x2="92.96" y2="12.30" stroke="#1a1a1a" stroke-width="1"/><line x1="92.96" y1="265.4" x2="92.96" y2="262.60" stroke="#1a1a1a" stroke-width="1"/><line x1="100.10" y1="9.5" x2="100.10" y2="12.30" stroke="#1a1a1a" stroke-width="1"/><line x1="100.10" y1="265.4" x2="100.10" y2="262.60" stroke="#1a1a1a" stroke-width="1"/><line x1="107.23" y1="9.5" x2="107.23" y2="14.50" stroke="#1a1a1a" stroke-width="1"/><line x1="107.23" y1="265.4" x2="107.23" y2="260.40" stroke="#1a1a1a" stroke-width="1"/><line x1="114.36" y1="9.5" x2="114.36" y2="12.30" stroke="#1a1a1a" stroke-width="1"/><line x1="114.36" y1="265.4" x2="114.36" y2="262.60" stroke="#1a1a1a" stroke-width="1"/><line x1="121.50" y1="9.5" x2="121.50" y2="12.30" stroke="#1a1a1a" stroke-width="1"/><line x1="121.50" y1="265.4" x2="121.50" y2="262.60" stroke="#1a1a1a" stroke-width="1"/><line x1="128.63" y1="9.5" x2="128.63" y2="12.30" stroke="#1a1a1a" stroke-width="1"/><line x1="128.63" y1="265.4" x2="128.63" y2="262.60" stroke="#1a1a1a" stroke-width="1"/><line x1="135.76" y1="9.5" x2="135.76" y2="12.30" stroke="#1a1a1a" stroke-width="1"/><line x1="135.76" y1="265.4" x2="135.76" y2="262.60" stroke="#1a1a1a" stroke-width="1"/><line x1="142.90" y1="9.5" x2="142.90" y2="12.30" stroke="#1a1a1a" stroke-width="1"/><line x1="142.90" y1="265.4" x2="142.90" y2="262.60" stroke="#1a1a1a" stroke-width="1"/><line x1="150.03" y1="9.5" x2="150.03" y2="12.30" stroke="#1a1a1a" stroke-width="1"/><line x1="150.03" y1="265.4" x2="150.03" y2="262.60" stroke="#1a1a1a" stroke-width="1"/><line x1="157.16" y1="9.5" x2="157.16" y2="12.30" stroke="#1a1a1a" stroke-width="1"/><line x1="157.16" y1="265.4" x2="157.16" y2="262.60" stroke="#1a1a1a" stroke-width="1"/><line x1="164.29" y1="9.5" x2="164.29" y2="12.30" stroke="#1a1a1a" stroke-width="1"/><line x1="164.29" y1="265.4" x2="164.29" y2="262.60" stroke="#1a1a1a" stroke-width="1"/><line x1="171.43" y1="9.5" x2="171.43" y2="12.30" stroke="#1a1a1a" stroke-width="1"/><line x1="171.43" y1="265.4" x2="171.43" y2="262.60" stroke="#1a1a1a" stroke-width="1"/><line x1="178.56" y1="9.5" x2="178.56" y2="14.50" stroke="#1a1a1a" stroke-width="1"/><line x1="178.56" y1="265.4" x2="178.56" y2="260.40" stroke="#1a1a1a" stroke-width="1"/><line x1="185.69" y1="9.5" x2="185.69" y2="12.30" stroke="#1a1a1a" stroke-width="1"/><line x1="185.69" y1="265.4" x2="185.69" y2="262.60" stroke="#1a1a1a" stroke-width="1"/><line x1="192.83" y1="9.5" x2="192.83" y2="12.30" stroke="#1a1a1a" stroke-width="1"/><line x1="192.83" y1="265.4" x2="192.83" y2="262.60" stroke="#1a1a1a" stroke-width="1"/><line x1="199.96" y1="9.5" x2="199.96" y2="12.30" stroke="#1a1a1a" stroke-width="1"/><line x1="199.96" y1="265.4" x2="199.96" y2="262.60" stroke="#1a1a1a" stroke-width="1"/><line x1="207.09" y1="9.5" x2="207.09" y2="12.30" stroke="#1a1a1a" stroke-width="1"/><line x1="207.09" y1="265.4" x2="207.09" y2="262.60" stroke="#1a1a1a" stroke-width="1"/><line x1="214.22" y1="9.5" x2="214.22" y2="12.30" stroke="#1a1a1a" stroke-width="1"/><line x1="214.22" y1="265.4" x2="214.22" y2="262.60" stroke="#1a1a1a" stroke-width="1"/><line x1="221.36" y1="9.5" x2="221.36" y2="12.30" stroke="#1a1a1a" stroke-width="1"/><line x1="221.36" y1="265.4" x2="221.36" y2="262.60" stroke="#1a1a1a" stroke-width="1"/><line x1="228.49" y1="9.5" x2="228.49" y2="12.30" stroke="#1a1a1a" stroke-width="1"/><line x1="228.49" y1="265.4" x2="228.49" y2="262.60" stroke="#1a1a1a" stroke-width="1"/><line x1="235.62" y1="9.5" x2="235.62" y2="12.30" stroke="#1a1a1a" stroke-width="1"/><line x1="235.62" y1="265.4" x2="235.62" y2="262.60" stroke="#1a1a1a" stroke-width="1"/><line x1="242.76" y1="9.5" x2="242.76" y2="12.30" stroke="#1a1a1a" stroke-width="1"/><line x1="242.76" y1="265.4" x2="242.76" y2="262.60" stroke="#1a1a1a" stroke-width="1"/><line x1="249.89" y1="9.5" x2="249.89" y2="14.50" stroke="#1a1a1a" stroke-width="1"/><line x1="249.89" y1="265.4" x2="249.89" y2="260.40" stroke="#1a1a1a" stroke-width="1"/><line x1="257.02" y1="9.5" x2="257.02" y2="12.30" stroke="#1a1a1a" stroke-width="1"/><line x1="257.02" y1="265.4" x2="257.02" y2="262.60" stroke="#1a1a1a" stroke-width="1"/><line x1="264.16" y1="9.5" x2="264.16" y2="12.30" stroke="#1a1a1a" stroke-width="1"/><line x1="264.16" y1="265.4" x2="264.16" y2="262.60" stroke="#1a1a1a" stroke-width="1"/><line x1="271.29" y1="9.5" x2="271.29" y2="12.30" stroke="#1a1a1a" stroke-width="1"/><line x1="271.29" y1="265.4" x2="271.29" y2="262.60" stroke="#1a1a1a" stroke-width="1"/><line x1="278.42" y1="9.5" x2="278.42" y2="12.30" stroke="#1a1a1a" stroke-width="1"/><line x1="278.42" y1="265.4" x2="278.42" y2="262.60" stroke="#1a1a1a" stroke-width="1"/><line x1="285.56" y1="9.5" x2="285.56" y2="12.30" stroke="#1a1a1a" stroke-width="1"/><line x1="285.56" y1="265.4" x2="285.56" y2="262.60" stroke="#1a1a1a" stroke-width="1"/><line x1="292.69" y1="9.5" x2="292.69" y2="12.30" stroke="#1a1a1a" stroke-width="1"/><line x1="292.69" y1="265.4" x2="292.69" y2="262.60" stroke="#1a1a1a" stroke-width="1"/><line x1="299.82" y1="9.5" x2="299.82" y2="12.30" stroke="#1a1a1a" stroke-width="1"/><line x1="299.82" y1="265.4" x2="299.82" y2="262.60" stroke="#1a1a1a" stroke-width="1"/><line x1="306.95" y1="9.5" x2="306.95" y2="12.30" stroke="#1a1a1a" stroke-width="1"/><line x1="306.95" y1="265.4" x2="306.95" y2="262.60" stroke="#1a1a1a" stroke-width="1"/><line x1="314.09" y1="9.5" x2="314.09" y2="12.30" stroke="#1a1a1a" stroke-width="1"/><line x1="314.09" y1="265.4" x2="314.09" y2="262.60" stroke="#1a1a1a" stroke-width="1"/><line x1="321.22" y1="9.5" x2="321.22" y2="14.50" stroke="#1a1a1a" stroke-width="1"/><line x1="321.22" y1="265.4" x2="321.22" y2="260.40" stroke="#1a1a1a" stroke-width="1"/><line x1="328.35" y1="9.5" x2="328.35" y2="12.30" stroke="#1a1a1a" stroke-width="1"/><line x1="328.35" y1="265.4" x2="328.35" y2="262.60" stroke="#1a1a1a" stroke-width="1"/><line x1="335.49" y1="9.5" x2="335.49" y2="12.30" stroke="#1a1a1a" stroke-width="1"/><line x1="335.49" y1="265.4" x2="335.49" y2="262.60" stroke="#1a1a1a" stroke-width="1"/><line x1="342.62" y1="9.5" x2="342.62" y2="12.30" stroke="#1a1a1a" stroke-width="1"/><line x1="342.62" y1="265.4" x2="342.62" y2="262.60" stroke="#1a1a1a" stroke-width="1"/><line x1="349.75" y1="9.5" x2="349.75" y2="12.30" stroke="#1a1a1a" stroke-width="1"/><line x1="349.75" y1="265.4" x2="349.75" y2="262.60" stroke="#1a1a1a" stroke-width="1"/><line x1="356.88" y1="9.5" x2="356.88" y2="12.30" stroke="#1a1a1a" stroke-width="1"/><line x1="356.88" y1="265.4" x2="356.88" y2="262.60" stroke="#1a1a1a" stroke-width="1"/><text x="26.8" y="14.10" font-family="Liberation Sans, sans-serif" font-size="7" text-anchor="end" fill="#000">400</text><text x="26.8" y="55.00" font-family="Liberation Sans, sans-serif" font-size="7" text-anchor="end" fill="#000">300</text><text x="26.8" y="98.10" font-family="Liberation Sans, sans-serif" font-size="7" text-anchor="end" fill="#000">200</text><text x="26.8" y="140.20" font-family="Liberation Sans, sans-serif" font-size="7" text-anchor="end" fill="#000">100</text><text x="26.8" y="182.90" font-family="Liberation Sans, sans-serif" font-size="7" text-anchor="end" fill="#000">0</text><text x="26.8" y="225.70" font-family="Liberation Sans, sans-serif" font-size="7" text-anchor="end" fill="#000">−100</text><text x="26.8" y="266.10" font-family="Liberation Sans, sans-serif" font-size="7" text-anchor="end" fill="#000">−200</text><text x="35.90" y="275" font-family="Liberation Sans, sans-serif" font-size="7" text-anchor="middle" fill="#000">0</text><text x="107.23" y="275" font-family="Liberation Sans, sans-serif" font-size="7" text-anchor="middle" fill="#000">10</text><text x="178.56" y="275" font-family="Liberation Sans, sans-serif" font-size="7" text-anchor="middle" fill="#000">20</text><text x="249.89" y="275" font-family="Liberation Sans, sans-serif" font-size="7" text-anchor="middle" fill="#000">30</text><text x="321.22" y="275" font-family="Liberation Sans, sans-serif" font-size="7" text-anchor="middle" fill="#000">40</text><text x="184.3" y="283.4" font-family="Liberation Sans, sans-serif" font-size="6.9" textLength="17" lengthAdjust="spacingAndGlyphs" fill="#000">Model</text><text transform="translate(5.7,136.8) rotate(-90)" x="-30.5" y="0" font-family="Liberation Sans, sans-serif" font-size="6.3" textLength="61" lengthAdjust="spacing" style="stroke-width:0.1px" fill="#000">Eclipse Depth (ppm)</text><text x="343.8" y="20.80" font-family="Liberation Sans, sans-serif" font-size="7" text-anchor="end" fill="#000">0.08</text><text x="343.8" y="49.30" font-family="Liberation Sans, sans-serif" font-size="7" text-anchor="end" fill="#000">0.06</text><text x="343.8" y="77.60" font-family="Liberation Sans, sans-serif" font-size="7" text-anchor="end" fill="#000">0.04</text><text x="343.8" y="105.70" font-family="Liberation Sans, sans-serif" font-size="7" text-anchor="end" fill="#000">0.02</text><text transform="translate(325.3,68) rotate(-90)" x="-9.6" y="0" font-family="Liberation Sans, sans-serif" font-size="5.9" textLength="19.2" lengthAdjust="spacingAndGlyphs" style="stroke-width:0.15px" fill="#000">Weight</text><text x="51.40" y="7" font-family="Liberation Sans, sans-serif" font-size="8.2" textLength="24.10" lengthAdjust="spacingAndGlyphs" fill="#000">Models</text><text x="78.60" y="7" font-family="Liberation Sans, sans-serif" font-size="8.2" textLength="16.10" lengthAdjust="spacingAndGlyphs" fill="#000">with</text><text x="98.40" y="7" font-family="Liberation Sans, sans-serif" font-size="8.2" textLength="23.20" lengthAdjust="spacingAndGlyphs" fill="#000">Weight</text><text x="126.20" y="7" font-family="Liberation Sans, sans-serif" font-size="8.2" textLength="4.50" lengthAdjust="spacingAndGlyphs" fill="#000">&gt;</text><text x="135.20" y="7" font-family="Liberation Sans, sans-serif" font-size="8.2" textLength="9.00" lengthAdjust="spacingAndGlyphs" fill="#000">0.5</text><text x="151.40" y="7" font-family="Liberation Sans, sans-serif" font-size="8.2" textLength="7.80" lengthAdjust="spacingAndGlyphs" fill="#000">%.</text><text x="167.30" y="7" font-family="Liberation Sans, sans-serif" font-size="8.2" textLength="25.20" lengthAdjust="spacingAndGlyphs" fill="#000">Eclipse</text><text x="196.20" y="7" font-family="Liberation Sans, sans-serif" font-size="8.2" textLength="21.10" lengthAdjust="spacingAndGlyphs" fill="#000">Depth</text><text x="221.60" y="7" font-family="Liberation Sans, sans-serif" font-size="8.2" textLength="5.20" lengthAdjust="spacingAndGlyphs" fill="#000">=</text><text x="242.60" y="7" font-family="Liberation Sans, sans-serif" font-size="8.2" textLength="16.20" lengthAdjust="spacingAndGlyphs" fill="#000">59.3</text><text x="293.30" y="7" font-family="Liberation Sans, sans-serif" font-size="8.2" textLength="20.20" lengthAdjust="spacingAndGlyphs" fill="#000">134.3</text><text x="318.00" y="7" font-family="Liberation Sans, sans-serif" font-size="8.2" textLength="15.00" lengthAdjust="spacingAndGlyphs" fill="#000">ppm</text><g stroke="#111" stroke-width="1" fill="none"><path d="M264.4 3.9H268.8M266.6 2.0V5.9"/><path d="M269.9 7.6L273.9 0.3"/><path d="M275.6 3.9H279.8"/></g></svg></body></html>
